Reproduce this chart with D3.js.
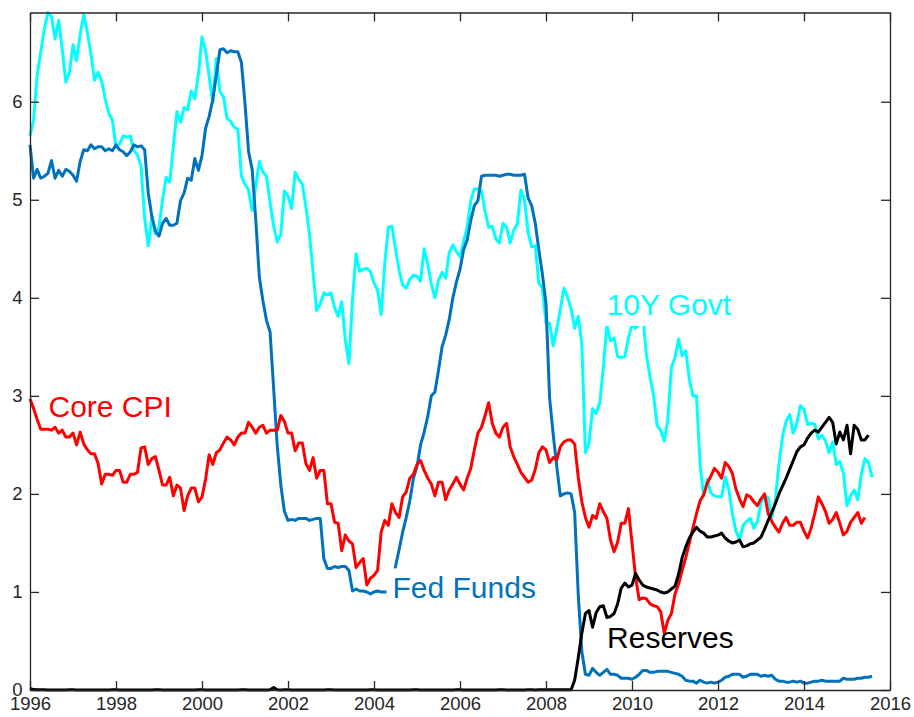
<!DOCTYPE html>
<html>
<head>
<meta charset="utf-8">
<script src="https://cdn.jsdelivr.net/npm/d3@7"></script>
<style>
  body { margin: 0; background: #fff; }
  text { font-family: "Liberation Sans", Arial, Helvetica, sans-serif; }
</style>
</head>
<body>
<svg id="chart" width="914" height="717"></svg>
<script>
// Monthly series, first value = January 1996
const startYear = 1996;

const fedFunds = [
  5.56,5.22,5.31,5.22,5.24,5.27,5.40,5.22,5.30,5.24,5.31,5.29,
  5.25,5.19,5.39,5.51,5.50,5.56,5.52,5.54,5.54,5.50,5.52,5.50,
  5.56,5.51,5.49,5.45,5.49,5.56,5.54,5.55,5.51,5.07,4.83,4.68,
  4.63,4.76,4.81,4.74,4.74,4.76,4.99,5.07,5.22,5.20,5.42,5.30,
  5.45,5.73,5.85,6.02,6.27,6.53,6.54,6.50,6.52,6.51,6.51,6.40,
  5.98,5.49,5.31,4.80,4.21,3.97,3.77,3.65,3.07,2.49,2.09,1.82,
  1.73,1.74,1.73,1.75,1.75,1.75,1.73,1.74,1.75,1.75,1.34,1.24,
  1.24,1.26,1.25,1.26,1.26,1.22,1.01,1.03,1.01,1.01,1.00,0.98,
  1.00,1.01,1.00,1.00,1.00,1.03,1.26,1.43,1.61,1.76,1.93,2.16,
  2.28,2.50,2.63,2.79,3.00,3.04,3.26,3.50,3.62,3.78,4.00,4.16,
  4.29,4.49,4.59,4.79,4.94,4.99,5.24,5.25,5.25,5.25,5.25,5.24,
  5.25,5.26,5.26,5.25,5.25,5.25,5.26,5.02,4.94,4.76,4.49,4.24,
  3.94,2.98,2.61,2.28,1.98,2.00,2.01,2.00,1.81,0.97,0.39,0.16,
  0.15,0.22,0.18,0.15,0.18,0.21,0.16,0.16,0.15,0.12,0.12,0.12,
  0.11,0.13,0.16,0.20,0.20,0.18,0.18,0.19,0.19,0.19,0.19,0.18,
  0.17,0.16,0.14,0.10,0.09,0.09,0.07,0.10,0.08,0.07,0.08,0.07,
  0.08,0.10,0.13,0.14,0.16,0.16,0.16,0.13,0.14,0.16,0.16,0.16,
  0.14,0.15,0.14,0.15,0.11,0.09,0.09,0.08,0.08,0.09,0.08,0.09,
  0.07,0.07,0.08,0.09,0.09,0.10,0.09,0.09,0.09,0.09,0.09,0.12,
  0.11,0.11,0.11,0.12,0.12,0.13,0.13,0.14
];

const govt10y = [
  5.65,5.81,6.27,6.51,6.74,6.91,6.87,6.64,6.83,6.53,6.20,6.30,
  6.58,6.42,6.69,6.89,6.71,6.49,6.22,6.30,6.21,6.03,5.88,5.81,
  5.54,5.57,5.65,5.64,5.65,5.50,5.46,5.34,4.81,4.53,4.83,4.65,
  4.72,5.00,5.23,5.18,5.54,5.90,5.79,5.94,5.92,6.11,6.03,6.28,
  6.66,6.52,6.26,5.99,6.44,6.10,6.05,5.83,5.80,5.74,5.72,5.24,
  5.16,5.10,4.89,5.14,5.39,5.28,5.24,4.97,4.73,4.57,4.65,5.09,
  5.04,4.91,5.28,5.21,5.16,4.93,4.65,4.26,3.87,3.94,4.05,4.03,
  4.05,3.90,3.81,3.96,3.57,3.33,3.98,4.45,4.27,4.29,4.30,4.27,
  4.15,4.08,3.83,4.35,4.72,4.73,4.50,4.28,4.13,4.10,4.19,4.23,
  4.22,4.17,4.50,4.34,4.14,4.00,4.18,4.26,4.20,4.46,4.54,4.47,
  4.42,4.57,4.72,4.99,5.11,5.11,5.09,4.88,4.72,4.73,4.60,4.56,
  4.76,4.72,4.56,4.69,4.75,5.10,5.00,4.67,4.52,4.53,4.15,4.10,
  3.74,3.74,3.51,3.68,3.88,4.10,4.01,3.89,3.69,3.81,3.53,2.42,
  2.52,2.87,2.82,2.93,3.29,3.72,3.56,3.59,3.40,3.39,3.40,3.59,
  3.73,3.69,3.73,3.85,3.42,3.20,3.01,2.70,2.65,2.54,2.76,3.29,
  3.39,3.58,3.41,3.46,3.17,3.00,3.00,2.30,1.98,2.15,2.01,1.98,
  1.97,1.97,2.17,2.05,1.80,1.62,1.53,1.68,1.72,1.75,1.65,1.72,
  1.91,1.98,1.96,1.76,1.93,2.30,2.58,2.74,2.81,2.62,2.72,2.90,
  2.86,2.71,2.72,2.71,2.56,2.60,2.54,2.42,2.53,2.30,2.33,2.21,
  1.88,1.98,2.04,1.94,2.20,2.36,2.32,2.17
];

const coreCPI = [
  2.97,2.87,2.76,2.66,2.66,2.66,2.65,2.68,2.62,2.65,2.58,2.58,
  2.62,2.50,2.63,2.51,2.45,2.41,2.41,2.31,2.10,2.20,2.20,2.19,
  2.24,2.24,2.12,2.12,2.20,2.20,2.22,2.47,2.48,2.30,2.36,2.38,
  2.24,2.09,2.09,2.17,1.98,2.09,2.06,1.83,1.98,2.06,2.06,1.92,
  1.97,2.15,2.40,2.30,2.42,2.45,2.52,2.58,2.55,2.50,2.58,2.62,
  2.62,2.73,2.68,2.62,2.68,2.70,2.62,2.65,2.65,2.65,2.80,2.74,
  2.62,2.62,2.44,2.52,2.52,2.31,2.24,2.37,2.16,2.24,2.24,1.90,
  1.90,1.71,1.70,1.42,1.58,1.52,1.49,1.25,1.30,1.34,1.07,1.14,
  1.17,1.22,1.61,1.73,1.68,1.90,1.81,1.76,1.97,2.02,2.16,2.20,
  2.30,2.34,2.24,2.16,2.10,1.98,2.12,2.12,1.94,2.04,2.10,2.17,
  2.10,2.04,2.16,2.26,2.45,2.62,2.68,2.80,2.93,2.72,2.62,2.58,
  2.68,2.72,2.48,2.38,2.30,2.22,2.17,2.12,2.14,2.25,2.42,2.48,
  2.45,2.32,2.37,2.35,2.48,2.53,2.55,2.55,2.51,2.17,1.92,1.76,
  1.66,1.78,1.75,1.90,1.82,1.75,1.53,1.41,1.51,1.70,1.70,1.85,
  1.50,1.15,0.92,0.94,0.93,0.88,0.86,0.85,0.80,0.58,0.71,0.78,
  0.98,1.08,1.22,1.35,1.50,1.65,1.80,1.93,1.99,2.11,2.18,2.26,
  2.22,2.16,2.32,2.28,2.21,2.05,1.95,1.87,1.99,1.97,1.92,1.88,
  1.95,2.00,1.80,1.72,1.66,1.61,1.70,1.76,1.68,1.68,1.71,1.71,
  1.62,1.55,1.65,1.80,1.97,1.90,1.82,1.70,1.74,1.81,1.70,1.58,
  1.62,1.71,1.76,1.81,1.70,1.76
];

const reserves = [
  0.015,0.004,0.002,0.002,0.002,0.001,0.001,0.001,0.001,0.001,0.001,0.002,
  0.002,0.001,0.001,0.001,0.001,0.001,0.001,0.001,0.001,0.001,0.001,0.002,
  0.002,0.001,0.001,0.001,0.001,0.001,0.001,0.001,0.001,0.001,0.001,0.002,
  0.002,0.001,0.001,0.001,0.001,0.001,0.001,0.001,0.001,0.001,0.001,0.002,
  0.002,0.001,0.001,0.001,0.001,0.001,0.001,0.001,0.001,0.001,0.001,0.002,
  0.002,0.001,0.001,0.001,0.001,0.001,0.001,0.002,0.025,0.002,0.001,0.002,
  0.002,0.001,0.001,0.001,0.001,0.001,0.001,0.001,0.001,0.001,0.001,0.002,
  0.002,0.001,0.001,0.001,0.001,0.001,0.001,0.001,0.001,0.001,0.001,0.002,
  0.002,0.001,0.001,0.001,0.001,0.001,0.001,0.001,0.001,0.001,0.001,0.002,
  0.002,0.001,0.001,0.001,0.001,0.001,0.001,0.001,0.001,0.001,0.001,0.002,
  0.002,0.001,0.001,0.001,0.001,0.001,0.001,0.001,0.001,0.001,0.001,0.002,
  0.002,0.001,0.001,0.001,0.001,0.001,0.001,0.002,0.002,0.001,0.002,0.002,
  0.002,0.002,0.002,0.002,0.002,0.002,0.002,0.002,0.10,0.33,0.58,0.78,
  0.81,0.64,0.79,0.85,0.86,0.74,0.75,0.78,0.88,1.04,1.09,1.05,
  1.07,1.19,1.12,1.07,1.05,1.04,1.03,1.02,1.00,0.99,1.00,1.03,
  1.06,1.18,1.35,1.46,1.55,1.61,1.66,1.62,1.60,1.56,1.56,1.57,
  1.58,1.60,1.55,1.52,1.50,1.51,1.53,1.46,1.47,1.49,1.50,1.53,
  1.56,1.64,1.73,1.81,1.90,2.00,2.08,2.16,2.25,2.34,2.43,2.48,
  2.50,2.57,2.62,2.65,2.63,2.68,2.73,2.78,2.73,2.51,2.63,2.55,
  2.70,2.41,2.70,2.66,2.55,2.55,2.60
];

const xTickValues = [1996,1998,2000,2002,2004,2006,2008,2010,2012,2014,2016];
const yTickValues = [0,1,2,3,4,5,6];
const xDomain = [1996, 2016];
const yDomain = [0, 6.91];

const seriesNames = ["10Y Govt", "Fed Funds", "Core CPI", "Reserves"];
const seriesData = [govt10y, fedFunds, coreCPI, reserves];
const seriesColors = ["#00FFFF", "#0072BD", "#FF0000", "#000000"];

// label anchor positions in data units (year, value)
const labelPos = [
  [2009.41, 3.825],
  [2004.43, 0.935],
  [1996.43, 2.787],
  [2009.42, 0.425]
];
const labelBackground = [true, true, false, false];

// ---------------- drawing ----------------
const svg = d3.select("#chart");
const L = 30, R = 890, T = 12.5, B = 690;
const axisColor = "#262626";

const x = d3.scaleLinear().domain(xDomain).range([L, R]);
const y = d3.scaleLinear().domain(yDomain).range([B, T]);

svg.append("rect").attr("width", 914).attr("height", 717).attr("fill", "#fff");

const line = d3.line()
  .x((d, i) => x(startYear + i / 12))
  .y(d => y(d));

const lines = svg.append("g");
seriesData.forEach((s, k) => {
  lines.append("path")
    .datum(s)
    .attr("d", line)
    .attr("fill", "none")
    .attr("stroke", seriesColors[k])
    .attr("stroke-width", 3)
    .attr("stroke-linejoin", "round")
    .attr("stroke-linecap", "butt");
});

// axes (ticks pointing inward, box)
function styleAxis(g, showLabels) {
  g.selectAll("path.domain").attr("stroke", axisColor).attr("stroke-width", 1.3);
  g.selectAll(".tick line").attr("stroke", axisColor).attr("stroke-width", 1.3);
  g.selectAll(".tick text")
    .attr("fill", axisColor)
    .style("font-size", "18.5px")
    .style("font-family", '"Liberation Sans", Arial, sans-serif');
  if (!showLabels) g.selectAll(".tick text").remove();
}

const gx = svg.append("g").attr("transform", `translate(0,${B})`)
  .call(d3.axisBottom(x).tickValues(xTickValues).tickFormat(d3.format("d"))
    .tickSizeInner(-9).tickSizeOuter(0).tickPadding(7));
styleAxis(gx, true);

const gxTop = svg.append("g").attr("transform", `translate(0,${T})`)
  .call(d3.axisTop(x).tickValues(xTickValues).tickSizeInner(-9).tickSizeOuter(0));
styleAxis(gxTop, false);

const gy = svg.append("g").attr("transform", `translate(${L},0)`)
  .call(d3.axisLeft(y).tickValues(yTickValues).tickFormat(d3.format("d"))
    .tickSizeInner(-9).tickSizeOuter(0).tickPadding(7.5));
styleAxis(gy, true);

const gyRight = svg.append("g").attr("transform", `translate(${R},0)`)
  .call(d3.axisRight(y).tickValues(yTickValues).tickSizeInner(-9).tickSizeOuter(0));
styleAxis(gyRight, false);

// series labels
const labels = svg.append("g");
seriesNames.forEach((name, k) => {
  const g = labels.append("g");
  const t = g.append("text")
    .attr("x", x(labelPos[k][0]))
    .attr("y", y(labelPos[k][1]))
    .attr("fill", seriesColors[k])
    .style("font-size", "30px")
    .text(name);
  if (labelBackground[k]) {
    const bb = t.node().getBBox();
    g.insert("rect", "text")
      .attr("x", bb.x - 6)
      .attr("y", bb.y - 3)
      .attr("width", bb.width + 12)
      .attr("height", bb.height + 8)
      .attr("fill", "#fff");
  }
});
</script>
</body>
</html>
